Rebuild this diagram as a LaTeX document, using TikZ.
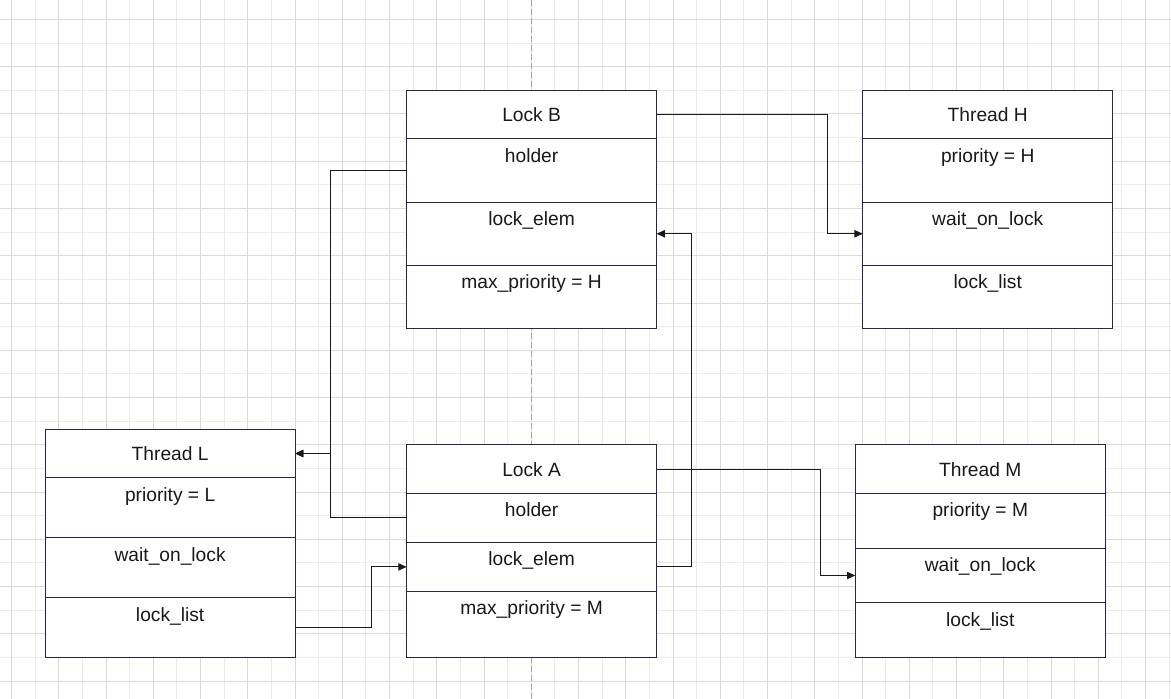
\documentclass[tikz,border=0pt]{standalone}
\usepackage{fontspec}
\setmainfont{Liberation Sans}
\usepackage{xcolor}
\usepackage{tikz}
\usetikzlibrary{arrows.meta,positioning,chains}
\definecolor{recline}{RGB}{35,40,82}
\definecolor{gridmajor}{RGB}{218,218,218}
\definecolor{gridminor}{RGB}{236,236,236}
\definecolor{pagebreak}{RGB}{165,165,165}

\begin{document}
\begin{tikzpicture}[
  x=0.75pt, y=-0.75pt,
  node distance=0pt,
  every node/.append style={
    text=black!90,
    font=\fontsize{14.4}{17}\selectfont
  },
  rec node/.style={draw=recline, fill=white, line width=0.75pt,
    minimum width=187.5pt, inner xsep=0pt, inner ysep=0pt, outer sep=0pt},
  head node/.style={rec node, minimum height=36.4pt},
  field node/.style={rec node, text height=17.6pt, text depth=#1},
  link/.style={draw=black!90, line width=0.75pt,
    -{Triangle[length=6.2pt,width=5.5pt]}}
]

\fill[white] (0,0) rectangle (1171,699);
\useasboundingbox (0,0) rectangle (1171,699);
\foreach \k in {0,...,49}
  \draw[gridminor, line width=0.75pt] (11.5+23.625*\k,0) -- (11.5+23.625*\k,699);
\foreach \k in {0,...,28}
  \draw[gridminor, line width=0.75pt] (0,19.5+23.625*\k) -- (1171,19.5+23.625*\k);
\foreach \k in {0,2,...,48}
  \draw[gridmajor, line width=0.75pt] (11.5+23.625*\k,0) -- (11.5+23.625*\k,699);
\foreach \k in {0,2,...,28}
  \draw[gridmajor, line width=0.75pt] (0,19.5+23.625*\k) -- (1171,19.5+23.625*\k);
\draw[pagebreak, line width=0.75pt, dash pattern=on 4.5pt off 2.25pt] (531.7,0) -- (531.7,699);

\begin{scope}[start chain=lb going below]
  \node[head node, on chain] (lockb) at (531.6,114.3) {Lock B};
  \node[field node=30pt, on chain] (lockb-holder) {holder};
  \node[field node=30pt, on chain] (lockb-elem) {lock\_elem};
  \node[field node=30pt, on chain] (lockb-max) {max\_priority = H};
\end{scope}

\begin{scope}[start chain=th going below]
  \node[head node, right=154.6pt of lockb, on chain] (threadh) {Thread H};
  \node[field node=30pt, on chain] (threadh-prio) {priority = H};
  \node[field node=30pt, on chain] (threadh-wait) {wait\_on\_lock};
  \node[field node=30pt, on chain] (threadh-list) {lock\_list};
\end{scope}

\begin{scope}[start chain=la going below]
  \node[head node, below=87pt of lockb-max, on chain] (locka) {Lock A};
  \node[field node=19.1pt, on chain] (locka-holder) {holder};
  \node[field node=19.1pt, on chain] (locka-elem) {lock\_elem};
  \node[field node=31.9pt, on chain] (locka-max) {max\_priority = M};
\end{scope}

\begin{scope}[start chain=tm going below]
  \node[head node, right=149pt of locka, on chain] (threadm) {Thread M};
  \node[field node=23.4pt, on chain] (threadm-prio) {priority = M};
  \node[field node=23.4pt, on chain] (threadm-wait) {wait\_on\_lock};
  \node[field node=23.4pt, on chain] (threadm-list) {lock\_list};
\end{scope}

\begin{scope}[start chain=tl going below]
  \node[head node, left=83.6pt of locka, yshift=11.8pt, on chain] (threadl) {Thread L};
  \node[field node=27.4pt, on chain] (threadl-prio) {priority = L};
  \node[field node=27.4pt, on chain] (threadl-wait) {wait\_on\_lock};
  \node[field node=27.4pt, on chain] (threadl-list) {lock\_list};
\end{scope}

\draw[link] (lockb.east) -- ++(170.5,0) |- (threadh-wait.west);
\draw[link] (locka.east) -- ++(164,0) |- (threadm-wait.west);
\draw[link] (locka-elem.east) -- ++(35,0) |- (lockb-elem.east);
\draw[link] (threadl-list.east) -- ++(76,0) |- (locka-elem.west);
\draw[link] (lockb-holder.west) -- ++(-76,0) |- (threadl.east);
\draw[link] (locka-holder.west) -- ++(-76,0) |- (threadl.east);
\end{tikzpicture}
\end{document}
